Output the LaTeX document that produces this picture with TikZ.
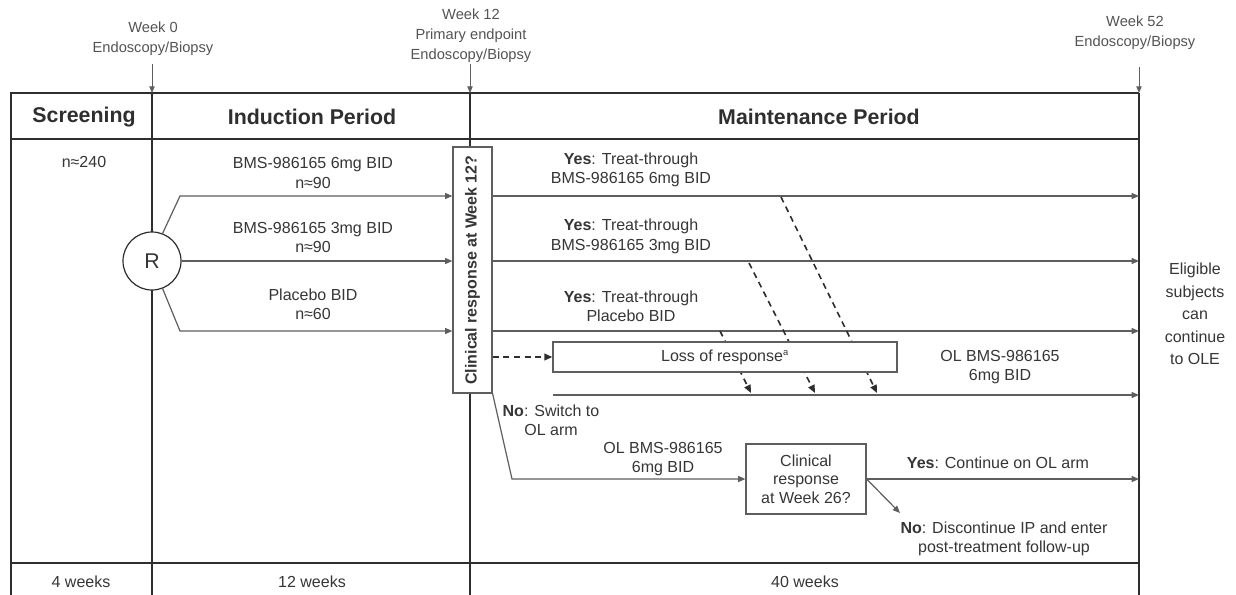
\documentclass[tikz,border=0pt]{standalone}
\usepackage{fontspec}
\setmainfont{Liberation Sans}
\usetikzlibrary{arrows.meta}
\definecolor{fr}{HTML}{2E2E2E}
\definecolor{ln}{HTML}{5E5E5E}
\definecolor{tx}{HTML}{363636}
\begin{document}
\begin{tikzpicture}[x=0.75pt,y=-0.75pt,
  frame/.style={draw=fr,line width=1.6pt},
  arr/.style={draw=ln,line width=0.9pt,-{Triangle[length=5.5pt,width=4.5pt]}},
  darr/.style={draw=fr,line width=1.2pt,dash pattern=on 4.5pt off 3.5pt,-{Triangle[length=6pt,width=5pt]}},
  warr/.style={draw=ln,line width=0.7pt,-{Triangle[length=5pt,width=4pt]}},
  wk/.style={text=tx!85,align=center,font=\fontsize{11}{15}\selectfont,inner sep=0pt},
  hd/.style={text=fr,font=\fontsize{16}{19}\selectfont\bfseries,inner sep=0pt},
  tb/.style={text=tx,align=center,font=\fontsize{12}{14.5}\selectfont,inner sep=0pt},
  circ/.style={circle,draw=fr,line width=0.9pt,fill=white,minimum size=43.5pt,inner sep=0pt,text=tx,font=\fontsize{16}{19}\selectfont},
  cb/.style={draw=ln,line width=0.9pt,fill=white,minimum width=184.5pt,minimum height=29.25pt,inner sep=0pt,text=tx,font=\fontsize{12}{15}\selectfont\bfseries},
  lb/.style={draw=ln,line width=0.9pt,fill=white,minimum width=258pt,minimum height=22.5pt,inner sep=0pt,text=tx,font=\fontsize{12}{15}\selectfont},
  cc/.style={draw=ln,line width=0.9pt,fill=white,minimum width=90pt,minimum height=52.5pt,inner sep=0pt,text=tx,align=center,font=\fontsize{12}{14}\selectfont}]
\useasboundingbox[fill=white] (0,0) rectangle (1236,594);
% frame
\draw[frame] (11,600) -- (11,93) -- (1139,93);
\draw[frame] (11,139) -- (1139,139);
\draw[frame] (11,563) -- (1139,563);
\draw[frame] (152,93) -- (152,600);
\draw[frame] (470,93) -- (470,600);
\draw[frame] (1139,93) -- (1139,600);
% week labels
\node[wk] (w0) at (153,39) {Week 0\\Endoscopy/Biopsy};
\node[wk] (w12) at (471,36) {Week 12\\Primary endpoint\\Endoscopy/Biopsy};
\node[wk] (w52) at (1135,33) {Week 52\\Endoscopy/Biopsy};
\coordinate (w0t) at (152,64); \coordinate (w0b) at (152,93);
\coordinate (w12t) at (470,64); \coordinate (w12b) at (470,93);
\coordinate (w52t) at (1139,67); \coordinate (w52b) at (1139,93);
\draw[warr] (w0t) -- (w0b);
\draw[warr] (w12t) -- (w12b);
\draw[warr] (w52t) -- (w52b);
% headers
\node[hd] (hs) at (84,117) {Screening};
\node[hd] (hi) at (312,117) {Induction Period};
\node[hd] (hm) at (819,117) {Maintenance Period};
\node[tb] (f1) at (81,582) {4 weeks};
\node[tb] (f2) at (312,582) {12 weeks};
\node[tb] (f3) at (805,582) {40 weeks};
% induction
\node[tb] (n240) at (84,162) {n≈240};
\node[tb] (a1) at (313,173) {BMS-986165 6mg BID\\n≈90};
\node[tb] (a2) at (313,237.5) {BMS-986165 3mg BID\\n≈90};
\node[tb] (a3) at (313,304.5) {Placebo BID\\n≈60};
\node[circ] (R) at (152,261) {R};
\node[cb,rotate=90] (cbox) at (472.5,270) {Clinical response at Week 12?};
\coordinate (rx) at (1139,0);
\coordinate (b1) at (180,196);
\coordinate (b3) at (180,331);
\draw[arr] (R.69) -- (b1) -- (b1 -| cbox.north);
\draw[arr] (R.east) -- (R.east -| cbox.north);
\draw[arr] (R.-69) -- (b3) -- (b3 -| cbox.north);
% maintenance
\node[tb] (y1) at (631,170) {\textbf{Yes}: Treat-through\\BMS-986165 6mg BID};
\node[tb] (y2) at (631,236.5) {\textbf{Yes}: Treat-through\\BMS-986165 3mg BID};
\node[tb] (y3) at (631,306) {\textbf{Yes}: Treat-through\\Placebo BID};
\draw[arr] (b1 -| cbox.south) -- (b1 -| rx);
\draw[arr] (R.east -| cbox.south) -- (R.east -| rx);
\draw[arr] (b3 -| cbox.south) -- (b3 -| rx);
\coordinate (d1a) at (781,197); \coordinate (d1b) at (877,393);
\coordinate (d2a) at (749,263); \coordinate (d2b) at (815,393);
\coordinate (d3a) at (720,331); \coordinate (d3b) at (751,393);
\draw[darr] (d1a) -- (d1b);
\draw[darr] (d2a) -- (d2b);
\draw[darr] (d3a) -- (d3b);
\node[lb] (lbox) at (725,357) {Loss of response\textsuperscript{\fontsize{7}{8}\selectfont a}};
\draw[darr] (cbox.south |- lbox) -- (lbox.west);
\coordinate (ol) at (553,395);
\draw[arr] (ol) -- (ol -| rx);
\node[tb] (ol1) at (1000,367) {OL BMS-986165\\6mg BID};
\node[tb,font=\fontsize{12}{16.8}\selectfont] (ele) at (1195,314) {Eligible\\subjects\\can\\continue\\to OLE};
% no branch
\node[tb] (nsw) at (551,420) {\textbf{No}: Switch to\\OL arm};
\node[tb] (ol2) at (663,459) {OL BMS-986165\\6mg BID};
\node[cc] (c26) at (806,479) {Clinical\\response\\at Week 26?};
\coordinate (nb) at (512,479);
\draw[arr] (cbox.south west) -- (nb) -- (c26.west);
\draw[arr] (c26.east) -- (c26.east -| rx);
\coordinate (ndt) at (900,513);
\draw[arr] (c26.east) -- (ndt);
\node[tb] (yc) at (998,463) {\textbf{Yes}: Continue on OL arm};
\node[tb] (nd) at (1004,539) {\textbf{No}: Discontinue IP and enter\\post-treatment follow-up};
\end{tikzpicture}
\end{document}
